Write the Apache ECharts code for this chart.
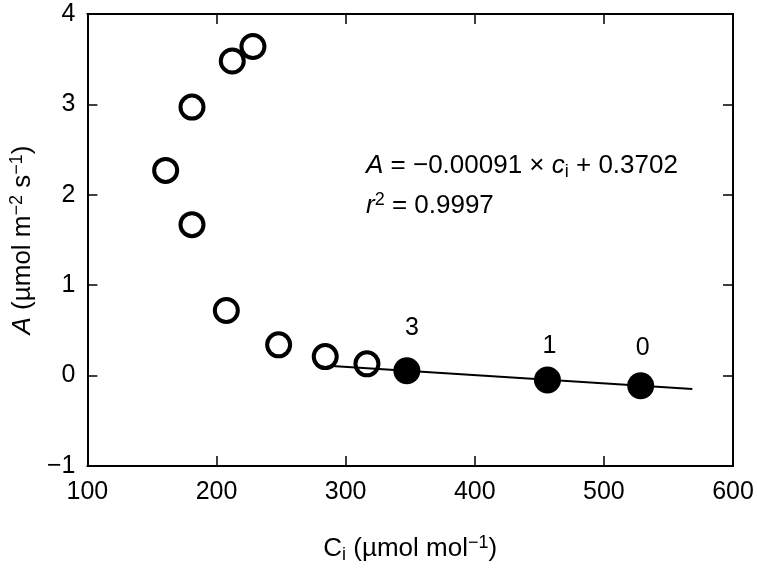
<!DOCTYPE html>
<html><head><meta charset="utf-8">
<script src="https://cdn.jsdelivr.net/npm/echarts@6/dist/echarts.min.js"></script>
<style>html,body{margin:0;padding:0;background:#fff}#c{width:757px;height:570px}</style>
</head><body><div id="c"></div>
<script>
// ---- data ----
const xTicks = [100, 200, 300, 400, 500, 600];
const yTicks = [-1, 0, 1, 2, 3, 4];
const openCi = [160.6, 181.0, 181.0, 207.6, 248.1, 284.2, 316.5, 228.2, 212.2];
const openA  = [2.27, 2.97, 1.67, 0.72, 0.34, 0.21, 0.13, 3.64, 3.48];
const filledCi = [347.4, 456.3, 528.5];
const filledA  = [0.054, -0.049, -0.112];
const filledLabels = ['3', '1', '0'];
const fitCi = [289.4, 568.5];
const fitA  = [0.107, -0.147];

// ---- styles ----
const FONT = '"Liberation Sans", Arial, Helvetica, sans-serif';
const labelShift = [[5, -11], [2, -2], [2, -6]];

const chart = echarts.init(document.getElementById('c'), null, {renderer: 'canvas'});
const fmt = v => (v < 0 ? '\u2212' + Math.abs(v) : String(v));
const axisLine = {show: true, onZero: false, lineStyle: {color: '#000', width: 2}};
const tick = {show: true, inside: true, length: 10, lineStyle: {color: '#000', width: 1.5}};
const xCommon = {type: 'value', min: xTicks[0], max: xTicks[xTicks.length - 1], interval: xTicks[1] - xTicks[0], splitLine: {show: false}, axisLine, axisTick: tick};
const yCommon = {type: 'value', min: yTicks[0], max: yTicks[yTicks.length - 1], interval: yTicks[1] - yTicks[0], splitLine: {show: false}, axisLine, axisTick: tick};

const nameRich = {
  n: {fontSize: 26, fontFamily: FONT, color: '#000', fontWeight: 'normal', lineHeight: 30},
  i: {fontSize: 26, fontFamily: FONT, color: '#000', fontWeight: 'normal', fontStyle: 'italic', lineHeight: 30},
  sup: {fontSize: 18, fontFamily: FONT, color: '#000', fontWeight: 'normal', verticalAlign: 'top', lineHeight: 17},
  sub: {fontSize: 18, fontFamily: FONT, color: '#000', fontWeight: 'normal', verticalAlign: 'bottom', lineHeight: 15}
};

const option = {
  animation: false,
  backgroundColor: '#fff',
  grid: {left: 87, right: 24, top: 14, bottom: 104, containLabel: false},
  title: [
    {left: 361, top: 146, text: '{i|A}{n| = \u22120.00091 \u00d7 }{i|c}{sub|i}{n| + 0.3702}', textStyle: {fontWeight: 'normal', rich: nameRich}},
    {left: 361, top: 186, text: '{i|r}{sup|2}{n| = 0.9997}', textStyle: {fontWeight: 'normal', rich: nameRich}}
  ],
  xAxis: [
    Object.assign({}, xCommon, {position: 'bottom',
      axisLabel: {show: true, fontSize: 25, fontFamily: FONT, color: '#000', margin: 14},
      name: '{n|C}{sub|i}{n| (\u00b5mol mol}{sup|\u22121}{n|)}', nameLocation: 'middle', nameGap: 68,
      nameTextStyle: {rich: nameRich}}),
    Object.assign({}, xCommon, {position: 'top', axisLabel: {show: false}})
  ],
  yAxis: [
    Object.assign({}, yCommon, {position: 'left',
      axisLabel: {show: true, fontSize: 25, fontFamily: FONT, color: '#000', margin: 12, formatter: fmt},
      name: '{i|A}{n| (\u00b5mol m}{sup|\u22122}{n| s}{sup|\u22121}{n|)}', nameLocation: 'middle', nameGap: 49, nameRotate: 90,
      nameTextStyle: {rich: nameRich}}),
    Object.assign({}, yCommon, {position: 'right', axisLabel: {show: false}})
  ],
  series: [
    {
      type: 'scatter', z: 2,
      data: openCi.map((x, k) => [x, openA[k]]),
      symbol: 'circle', symbolSize: 23,
      itemStyle: {color: '#fff', borderColor: '#000', borderWidth: 4, opacity: 1}
    },
    {
      type: 'line', z: 3,
      data: fitCi.map((x, k) => [x, fitA[k]]),
      symbol: 'none', lineStyle: {color: '#000', width: 2}
    },
    {
      type: 'scatter', z: 4,
      data: filledCi.map((x, k) => ({value: [x, filledA[k]], name: filledLabels[k],
        label: {offset: labelShift[k]}})),
      symbol: 'circle', symbolSize: 27,
      itemStyle: {color: '#000', opacity: 1},
      label: {show: true, position: 'top', distance: 6, formatter: p => p.name,
        fontSize: 25, fontFamily: FONT, color: '#000'}
    }
  ]
};
chart.setOption(option);
</script>
</body></html>
